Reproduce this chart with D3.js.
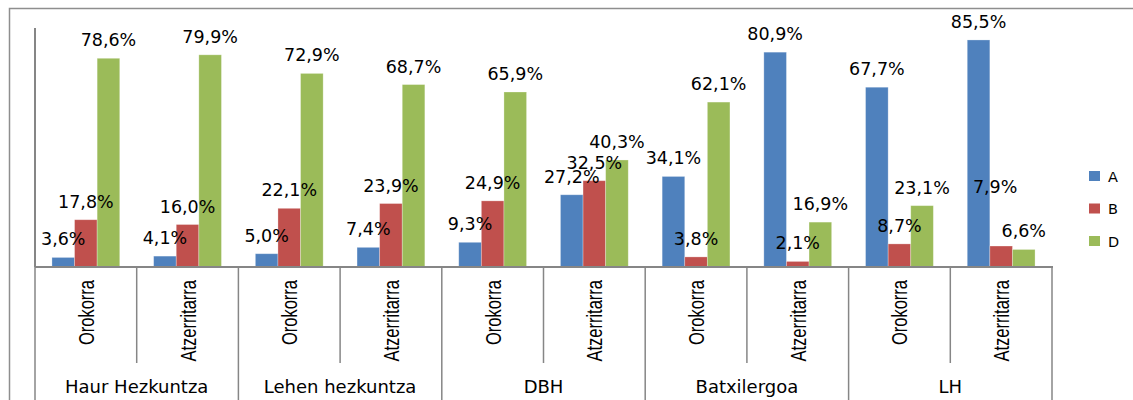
<!DOCTYPE html>
<html>
<head>
<meta charset="utf-8">
<script src="https://cdn.jsdelivr.net/npm/d3@7"></script>
<style>
  body { margin: 0; background: #fff; }
</style>
</head>
<body>
<div id="chart"></div>
<script>
// data
var groups = ["Haur Hezkuntza", "Lehen hezkuntza", "DBH", "Batxilergoa", "LH"];
var subcats = ["Orokorra", "Atzerritarra"];
var seriesNames = ["A", "B", "D"];
var seriesColors = ["#4F81BD", "#C0504D", "#9BBB59"];
var valuesA = [3.6, 4.1, 5.0, 7.4, 9.3, 27.2, 34.1, 80.9, 67.7, 85.5];
var valuesB = [17.8, 16.0, 22.1, 23.9, 24.9, 32.5, 3.8, 2.1, 8.7, 7.9];
var valuesD = [78.6, 79.9, 72.9, 68.7, 65.9, 40.3, 62.1, 16.9, 23.1, 6.6];

var W = 1133, H = 400;
var plotLeft = 35, plotRight = 1052, plotTop = 28, base = 267;
var sansFont = "'DejaVu Sans', Verdana, sans-serif";

var svg = d3.select("#chart").append("svg")
    .attr("width", W)
    .attr("height", H);

// outer chart border (partly cropped)
svg.append("path")
    .attr("d", "M9.5," + H + "V8.5H" + W)
    .attr("fill", "none")
    .attr("stroke", "#8e8e8e")
    .attr("stroke-width", 1.5);

// build category keys
var cats = [];
groups.forEach(function(g) {
    subcats.forEach(function(s) { cats.push(g + "|" + s); });
});

var allValues = [valuesA, valuesB, valuesD];
var rows = cats.map(function(c, i) {
    return { cat: c, sub: c.split("|")[1], vals: seriesNames.map(function(s, j) {
        return { series: s, value: allValues[j][i], color: seriesColors[j], ci: i };
    }) };
});

// scales
var x0 = d3.scaleBand().domain(cats).range([plotLeft, plotRight]).padding(0);
var x1 = d3.scaleBand().domain(seriesNames).range([0, x0.bandwidth()])
    .paddingInner(0).paddingOuter(0.75);
var y = d3.scaleLinear().domain([0, 90]).range([base, plotTop]);

var fmt = function(v) { return d3.format(".1f")(v).replace(".", ",") + "%"; };

// bars
var g = svg.selectAll("g.cat")
    .data(rows)
    .enter()
    .append("g")
        .attr("class", "cat")
        .attr("transform", function(d) { return "translate(" + x0(d.cat) + ",0)"; });

g.selectAll("rect")
    .data(function(d) { return d.vals; })
    .enter()
    .append("rect")
        .attr("x", function(d) { return x1(d.series); })
        .attr("y", function(d) { return y(d.value); })
        .attr("width", x1.bandwidth())
        .attr("height", function(d) { return base - y(d.value); })
        .attr("fill", function(d) { return d.color; })
        .attr("stroke", "rgba(255,255,255,0.35)")
        .attr("stroke-width", 0.8);

// value labels (one label in LH was moved by hand in the original)
g.selectAll("text.val")
    .data(function(d) { return d.vals; })
    .enter()
    .append("text")
        .attr("class", "val")
        .attr("text-anchor", "middle")
        .style("font-family", sansFont)
        .style("font-size", "17.5px")
        .attr("x", function(d) {
            var dx = (d.ci === 9 && d.series === "B") ? -6 : 0;
            return x1(d.series) + x1.bandwidth() / 2 + dx;
        })
        .attr("y", function(d) {
            var dy = (d.ci === 9 && d.series === "B") ? -41 : 0;
            return y(d.value) - 12 + dy;
        })
        .text(function(d) { return fmt(d.value); });

// axes lines
var axisColor = "#868686";
svg.append("line")
    .attr("x1", plotLeft).attr("x2", plotLeft)
    .attr("y1", plotTop).attr("y2", base)
    .attr("stroke", axisColor).attr("stroke-width", 2);
svg.append("line")
    .attr("x1", plotLeft).attr("x2", plotRight + 1)
    .attr("y1", base).attr("y2", base)
    .attr("stroke", axisColor).attr("stroke-width", 2);

// category dividers
cats.forEach(function(c, i) {
    var xx = x0(c) + x0.bandwidth();
    var isGroupEnd = (i % 2 === 1);
    svg.append("line")
        .attr("x1", xx).attr("x2", xx)
        .attr("y1", base).attr("y2", isGroupEnd ? H : 363)
        .attr("stroke", axisColor).attr("stroke-width", 1.5);
});
svg.append("line")
    .attr("x1", plotLeft).attr("x2", plotLeft)
    .attr("y1", base).attr("y2", H)
    .attr("stroke", axisColor).attr("stroke-width", 1.5);

// sub-category labels (rotated, narrowed)
rows.forEach(function(d) {
    var cx = x0(d.cat) + x0.bandwidth() / 2;
    svg.append("text")
        .attr("text-anchor", "end")
        .style("font-family", "'Liberation Sans', Arial, sans-serif")
        .style("font-size", "22px")
        .attr("transform", "translate(" + (cx + 8) + ",280) rotate(-90) scale(0.75,1)")
        .text(d.sub);
});

// group labels
groups.forEach(function(gname) {
    var a = x0(gname + "|" + subcats[0]);
    var b = x0(gname + "|" + subcats[1]) + x0.bandwidth();
    svg.append("text")
        .attr("text-anchor", "middle")
        .style("font-family", sansFont)
        .style("font-size", "18px")
        .attr("x", (a + b) / 2)
        .attr("y", 393)
        .text(gname);
});

// legend
var legend = svg.selectAll("g.leg")
    .data(seriesNames)
    .enter()
    .append("g")
        .attr("class", "leg")
        .attr("transform", function(d, i) { return "translate(1089," + (171 + i * 32.5) + ")"; });
legend.append("rect")
    .attr("width", 11).attr("height", 10)
    .attr("fill", function(d, i) { return seriesColors[i]; });
legend.append("text")
    .style("font-family", sansFont)
    .style("font-size", "14.5px")
    .attr("x", 19)
    .attr("y", 10.5)
    .text(function(d) { return d; });
</script>
</body>
</html>
